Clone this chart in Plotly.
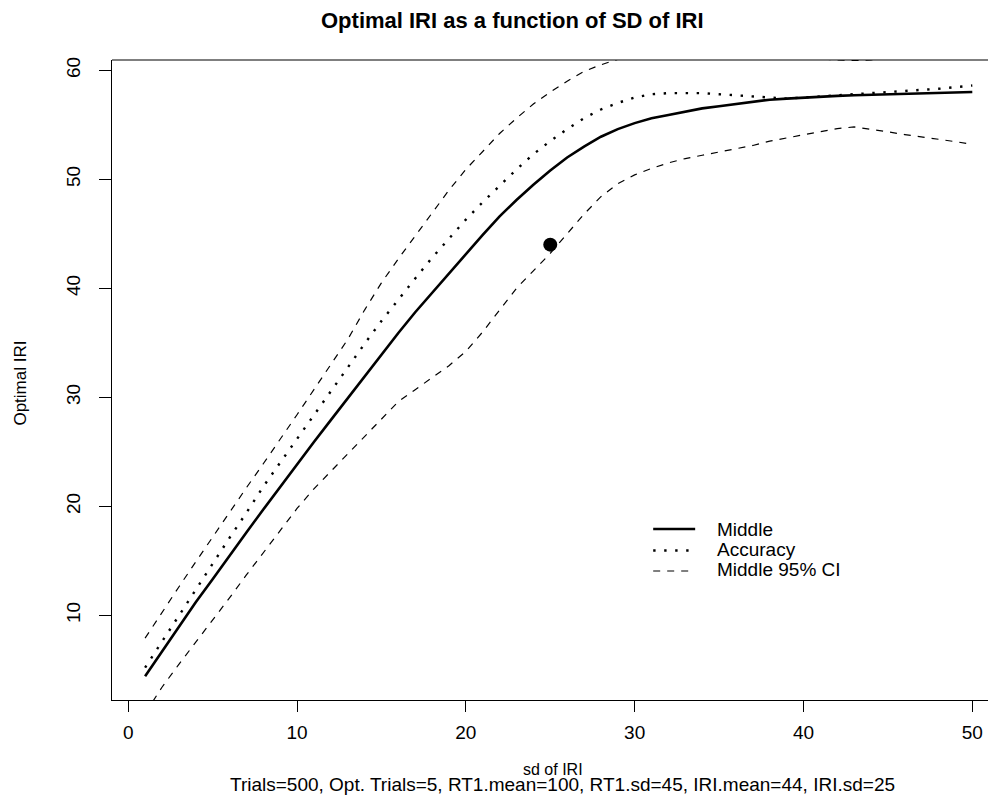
import plotly.graph_objects as go

# ---------------- data ----------------
sd_iri = list(range(1, 51))

middle = [4.4, 6.7, 8.9, 11.2, 13.3, 15.5, 17.6, 19.7, 21.8, 23.9,
          25.9, 27.9, 29.9, 31.9, 34.0, 35.9, 37.8, 39.6, 41.4, 43.2,
          44.9, 46.6, 48.1, 49.5, 50.8, 52.0, 53.0, 53.9, 54.6, 55.15,
          55.6, 55.9, 56.2, 56.5, 56.7, 56.9, 57.1, 57.3, 57.4, 57.5,
          57.6, 57.65, 57.7, 57.75, 57.8, 57.85, 57.9, 57.95, 58.0, 58.0]

accuracy = [5.2, 7.6, 10.0, 12.4, 14.8, 17.1, 19.4, 21.8, 24.0, 26.2,
            28.4, 30.5, 32.7, 34.9, 37.0, 39.0, 40.9, 42.8, 44.6, 46.3,
            47.9, 49.4, 50.9, 52.3, 53.5, 54.6, 55.6, 56.4, 57.0, 57.5,
            57.8, 57.9, 57.9, 57.9, 57.8, 57.7, 57.6, 57.45, 57.4, 57.5,
            57.6, 57.7, 57.75, 57.85, 57.95, 58.05, 58.15, 58.3, 58.45, 58.6]

ci_upper = [7.9, 10.3, 12.6, 14.9, 17.2, 19.5, 21.7, 23.9, 26.1, 28.4,
            30.7, 33.0, 35.3, 38.0, 40.5, 42.7, 44.8, 46.9, 49.0, 50.9,
            52.6, 54.2, 55.6, 56.9, 58.0, 59.0, 59.9, 60.5, 61.0, 61.4,
            61.7, 61.9, 62.0, 62.0, 61.9, 61.7, 61.5, 61.3, 61.2, 61.1,
            61.0, 60.95, 60.9, 60.95, 61.1, 61.3, 61.5, 61.8, 62.1, 62.4]

ci_lower = [1.0, 3.4, 5.5, 7.5, 9.6, 11.6, 13.7, 15.7, 17.8, 19.8,
            21.6, 23.2, 24.8, 26.4, 28.0, 29.6, 30.7, 31.8, 32.9, 34.2,
            36.0, 38.0, 40.0, 41.6, 43.2, 45.0, 46.8, 48.4, 49.6, 50.4,
            51.0, 51.5, 51.9, 52.2, 52.5, 52.8, 53.1, 53.5, 53.8, 54.1,
            54.4, 54.65, 54.8, 54.6, 54.35, 54.1, 53.9, 53.7, 53.45, 53.2]

point_x = [25]
point_y = [44]

x_ticks = [0, 10, 20, 30, 40, 50]
y_ticks = [10, 20, 30, 40, 50, 60]

legend_labels = ["Middle", "Accuracy", "Middle 95% CI"]

title_text = "Optimal IRI as a function of SD of IRI"
xlab_text = "sd of IRI"
sub_text = "Trials=500, Opt. Trials=5, RT1.mean=100, RT1.sd=45, IRI.mean=44, IRI.sd=25"
ylab_text = "Optimal IRI"

# ---------------- layout geometry (page pixels) ----------------
OFF = 8  # default body margin of the page
FIG_W, FIG_H = 980, 789
PL, PR, PT, PB = 111.5, 988.0, 60.0, 700.0


def px(xp):
    return (xp - PL) / (PR - PL)


def py(yp):
    return (PB - yp) / (PB - PT)


FONT = "Liberation Sans, Arial, Helvetica, sans-serif"

fig = go.Figure()

fig.add_trace(go.Scatter(x=sd_iri, y=ci_upper, mode="lines",
                         line=dict(color="black", width=1.2, dash="7px,7px"),
                         name="Middle 95% CI", showlegend=False))
fig.add_trace(go.Scatter(x=sd_iri, y=ci_lower, mode="lines",
                         line=dict(color="black", width=1.2, dash="7px,7px"),
                         name="Middle 95% CI", showlegend=False))
fig.add_trace(go.Scatter(x=sd_iri, y=accuracy, mode="lines",
                         line=dict(color="black", width=2.4, dash="2.4px,8.6px"),
                         name="Accuracy", showlegend=False))
fig.add_trace(go.Scatter(x=sd_iri, y=middle, mode="lines",
                         line=dict(color="black", width=2.6),
                         name="Middle", showlegend=False))
fig.add_trace(go.Scatter(x=point_x, y=point_y, mode="markers",
                         marker=dict(color="black", size=14, symbol="circle"),
                         showlegend=False))

shapes = []
# top border of the box
shapes.append(dict(type="line", xref="paper", yref="paper", x0=0, x1=1, y0=1, y1=1,
                   line=dict(color="black", width=1.2)))

# manual legend
leg_x0, leg_x1, leg_tx = 653, 695, 715
leg_line_y = [529, 550.5, 571]
leg_text_y = [529, 549.5, 569.5]
leg_styles = [dict(color="black", width=2.6),
              dict(color="black", width=2.4, dash="2.4px,8.6px"),
              dict(color="black", width=1.2, dash="7px,7px")]
for ly, st in zip(leg_line_y, leg_styles):
    shapes.append(dict(type="line", xref="paper", yref="paper",
                       x0=px(leg_x0), x1=px(leg_x1), y0=py(ly), y1=py(ly), line=st))

annotations = []
for lab, ty in zip(legend_labels, leg_text_y):
    annotations.append(dict(text=lab, xref="paper", yref="paper", x=px(leg_tx), y=py(ty),
                            xanchor="left", yanchor="middle", showarrow=False,
                            font=dict(family=FONT, size=19, color="black")))

annotations.append(dict(text="<b>" + title_text + "</b>", xref="paper", yref="paper",
                        x=px(512), y=py(21), xanchor="center", yanchor="middle",
                        showarrow=False, font=dict(family=FONT, size=22, color="black")))
annotations.append(dict(text=xlab_text, xref="paper", yref="paper",
                        x=px(553), y=py(769), xanchor="center", yanchor="middle",
                        showarrow=False, font=dict(family=FONT, size=16, color="black")))
annotations.append(dict(text=sub_text, xref="paper", yref="paper",
                        x=px(562), y=py(797), xanchor="center", yanchor="bottom",
                        showarrow=False, font=dict(family=FONT, size=19, color="black")))
annotations.append(dict(text=ylab_text, xref="paper", yref="paper",
                        x=px(19), y=py(383), xanchor="center", yanchor="middle",
                        textangle=-90, showarrow=False,
                        font=dict(family=FONT, size=17, color="black")))

fig.update_layout(
    width=FIG_W, height=FIG_H,
    margin=dict(l=PL - OFF, r=FIG_W - (PR - OFF), t=PT - OFF, b=FIG_H - (PB - OFF), pad=0),
    paper_bgcolor="white", plot_bgcolor="white",
    showlegend=False,
    shapes=shapes, annotations=annotations,
    xaxis=dict(range=[-0.96, 50.93], tickvals=x_ticks, ticks="outside", ticklen=11,
               tickwidth=1.2, tickcolor="black", showline=True, linecolor="black",
               linewidth=1.2, showgrid=False, zeroline=False,
               tickfont=dict(family=FONT, size=19, color="black"),
               ticklabelstandoff=4),
    yaxis=dict(range=[2.23, 60.94], tickvals=y_ticks, ticks="outside", ticklen=12,
               tickwidth=1.2, tickcolor="black", showline=True, linecolor="black",
               linewidth=1.2, showgrid=False, zeroline=False, tickangle=-90,
               tickfont=dict(family=FONT, size=19, color="black"),
               ticklabelstandoff=11),
)

fig.write_html("out.html")
